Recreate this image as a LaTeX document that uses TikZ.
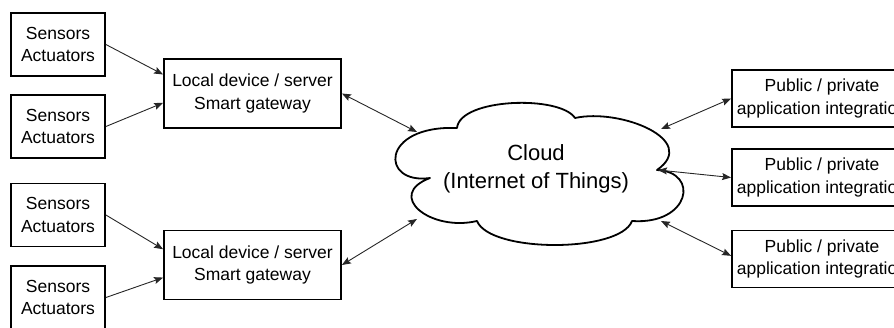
\documentclass[tikz,border=0pt]{standalone}
\usepackage{fontspec}
\setmainfont{Liberation Sans}
\usetikzlibrary{arrows.meta}
\begin{document}
\begin{tikzpicture}[x=1pt,y=-1pt,
  >={Stealth[length=9pt,width=7pt,inset=1.5pt]},
  box/.style={draw=black,line width=1.8pt,align=center,inner sep=0pt,
    font=\fontsize{17.5}{22.5}\selectfont},
  sensorbox/.style={box,minimum width=94pt,minimum height=63pt},
  gatebox/.style={box,minimum width=177pt,minimum height=69pt},
  appbox/.style={box,minimum width=180pt,minimum height=57pt},
  link/.style={line width=0.9pt,draw=black!85,->},
  duplex/.style={line width=0.9pt,draw=black!85,<->}]
\useasboundingbox (0,0) rectangle (894,327);
\clip (0,0) rectangle (894,327);

% sensor / actuator groups
\node[sensorbox] (s1) at (58,44.5)  {Sensors\\Actuators};
\node[sensorbox] (s2) at (58,126.5) {Sensors\\Actuators};
\node[sensorbox] (s3) at (58,215)   {Sensors\\Actuators};
\node[sensorbox] (s4) at (58,297.5) {Sensors\\Actuators};

% gateways
\node[gatebox] (g1) at (252.5,93.5) {Local device / server\\Smart gateway};
\node[gatebox] (g2) at (252.5,265)  {Local device / server\\Smart gateway};

% application integration
\node[appbox] (r1) at (822,98.5) {Public / private\\application integration};
\node[appbox] (r2) at (822,177.5) {Public / private\\application integration};
\node[appbox] (r3) at (822,259) {Public / private\\application integration};

% the cloud outline
\draw[line width=1.8pt,line join=round,line cap=round]
  (430,178) .. controls (380,185) and (380,125) .. (457,128)
  .. controls (460,98) and (560,95) .. (575,118)
  .. controls (620,108) and (700,140) .. (657,170)
  .. controls (700,172) and (690,225) .. (632,221)
  .. controls (620,253) and (490,253) .. (477,221)
  .. controls (430,232) and (385,195) .. (430,178);
\node[font=\fontsize{22}{28}\selectfont,align=center] (cloud) at (536,169)
  {Cloud\\(Internet of Things)};

% points on the cloud outline
\coordinate (c-g1) at (417,132);
\coordinate (c-g2) at (417,219);
\coordinate (c-r1) at (661,129);
\coordinate (c-r2) at (658,170);
\coordinate (c-r3) at (661,221);

% connectors
\draw[link] (s1.east) -- (g1.168);
\draw[link] (s2.east) -- (g1.186);
\draw[link] (s3.east) -- (g2.170);
\draw[link] (s4.east) -- (g2.188);
\draw[duplex] (g1.east) -- (c-g1);
\draw[duplex] (g2.east) -- (c-g2);
\draw[duplex] (c-r1) -- (r1.west);
\draw[duplex] (c-r2) -- (r2.west);
\draw[duplex] (c-r3) -- (r3.178);
\end{tikzpicture}
\end{document}
